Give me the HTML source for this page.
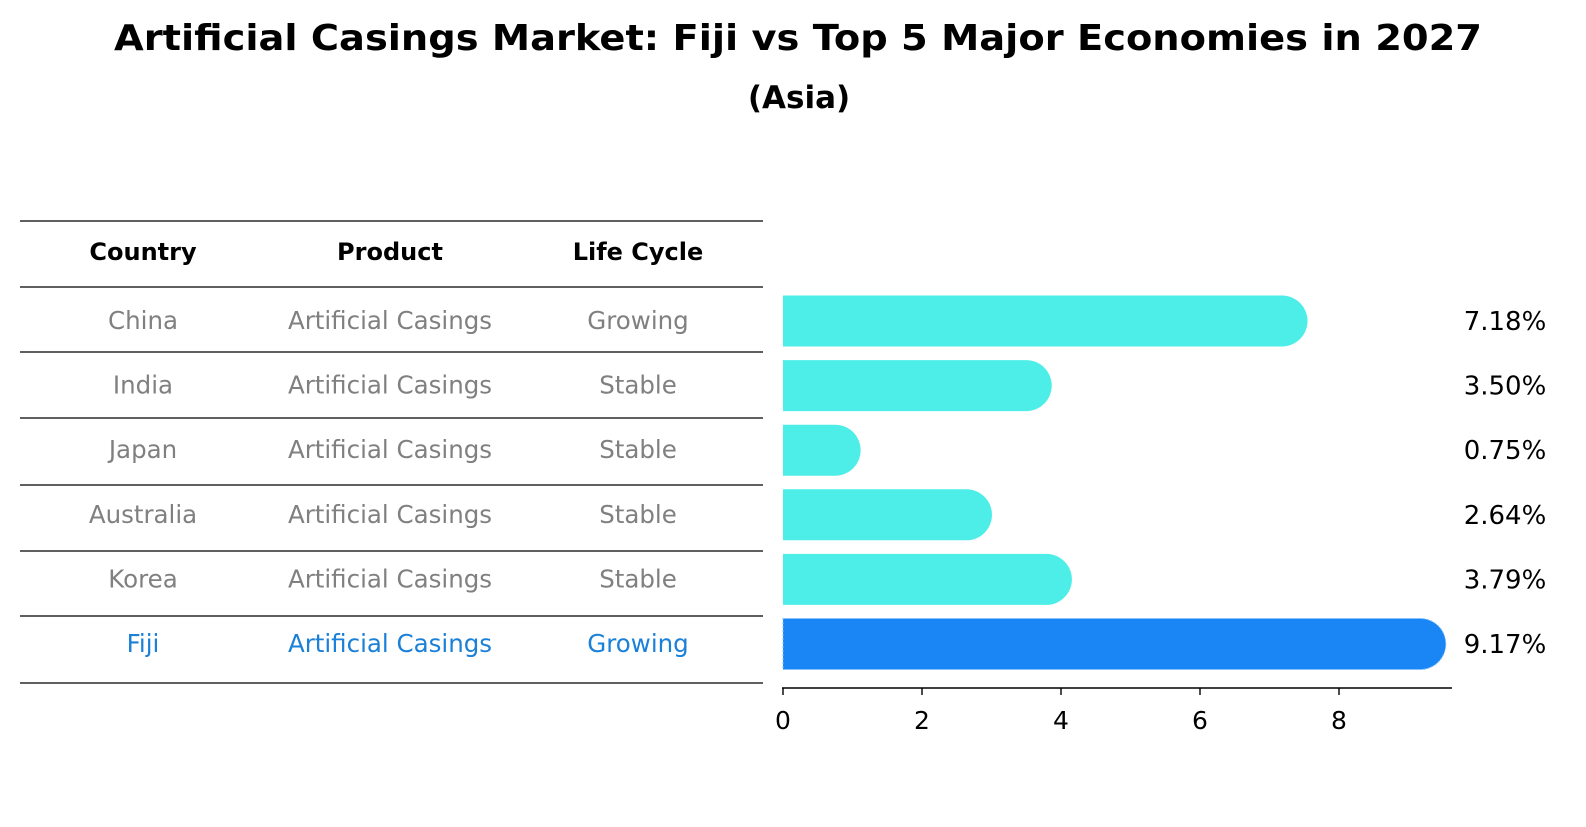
<!DOCTYPE html>
<html><head><meta charset="utf-8"><style>
body{margin:0;background:#fff;font-family:"DejaVu Sans","Liberation Sans",sans-serif;}
svg text{font-family:"DejaVu Sans","Liberation Sans",sans-serif;}
</style></head><body>
<svg id="c" width="1586" height="823" xmlns="http://www.w3.org/2000/svg">
<text x="798" y="50" text-anchor="middle" font-size="36" font-weight="bold" textLength="1368" lengthAdjust="spacingAndGlyphs">Artificial Casings Market: Fiji vs Top 5 Major Economies in 2027</text>
<text x="799" y="108" text-anchor="middle" font-size="31" font-weight="bold">(Asia)</text>
<g id="tbl"></g>
<g id="bars"></g>
</svg>
<script>
const countries=["China","India","Japan","Australia","Korea","Fiji"];
const products=["Artificial Casings","Artificial Casings","Artificial Casings","Artificial Casings","Artificial Casings","Artificial Casings"];
const cycles=["Growing","Stable","Stable","Stable","Stable","Growing"];
const values=[7.18,3.50,0.75,2.64,3.79,9.17];
const ticks=[0,2,4,6,8];
const NS="http://www.w3.org/2000/svg";
function mk(t,a,p){const e=document.createElementNS(NS,t);for(const k in a)e.setAttribute(k,a[k]);p.appendChild(e);return e;}
const tbl=document.getElementById('tbl'),bars=document.getElementById('bars');
const rowY=i=>321+i*64.6;
const xs=v=>783+v*69.5;
const lineYs=[221,287,352,418,485,551,616,683];
lineYs.forEach((y,i)=>{const l=mk('line',{x1:20,x2:763,y1:y,y2:y,stroke:'#000','stroke-width':1.2},tbl);

});
const colX=[143,390,638];
["Country","Product","Life Cycle"].forEach((h,j)=>{const t=mk('text',{x:colX[j],y:260,'text-anchor':'middle','font-size':24,'font-weight':'bold'},tbl);t.textContent=h;

});
countries.forEach((c,i)=>{const col=i===5?'#1a80d8':'#808080';
[c,products[i],cycles[i]].forEach((s,j)=>{const t=mk('text',{x:colX[j],y:rowY(i)+8,'text-anchor':'middle','font-size':24.5,fill:col},tbl);t.textContent=s;

});
const x0=xs(0),xv=xs(values[i]),y=rowY(i),h=51,r=25.5,yt=y-h/2;
const p=mk('path',{d:`M${x0},${yt} L${xv},${yt} A${r},${r} 0 0 1 ${xv},${yt+h} L${x0},${yt+h} Z`,fill:i===5?'#1a85f5':'#4deee8'},bars);
if(i===5){p.setAttribute('stroke','#7fc4ff');p.setAttribute('stroke-dasharray','2,2');p.setAttribute('stroke-width','1');}


const tv=mk('text',{x:1505,y:y+9,'text-anchor':'middle','font-size':26},bars);tv.textContent=values[i].toFixed(2)+'%';

});
const ax=mk('line',{x1:782,x2:1452,y1:688,y2:688,stroke:'#000','stroke-width':1.6},bars);


ticks.forEach(v=>{const tk=mk('line',{x1:xs(v),x2:xs(v),y1:688,y2:695,stroke:'#000','stroke-width':1.4},bars);


const t=mk('text',{x:xs(v),y:729,'text-anchor':'middle','font-size':25},bars);t.textContent=v;

});
</script>
</body></html>
